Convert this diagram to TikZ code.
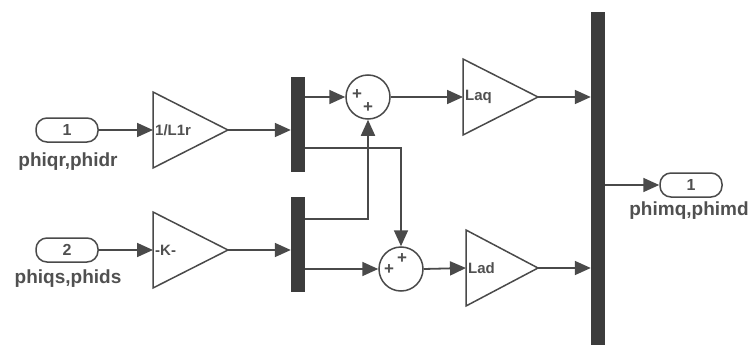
\documentclass[tikz,border=0pt]{standalone}
\usepackage{fontspec}
\setmainfont{Liberation Sans}
\usetikzlibrary{arrows.meta}
\definecolor{ink}{HTML}{4A4A4A}
\definecolor{barcol}{HTML}{3C3C3C}
\definecolor{txt}{HTML}{505050}
\begin{document}
\begin{tikzpicture}[x=1pt,y=-1pt,
  wire/.style={draw=ink, line width=1.8pt},
  sig/.style={wire, -{Triangle[length=16pt,width=14pt]}},
  port/.style={draw=ink, line width=1.5pt, rounded corners=11pt, minimum width=62pt,
    minimum height=24pt, inner sep=0pt, text=txt, font=\bfseries\fontsize{16}{16}\selectfont},
  bus/.style={fill=barcol, draw=none, minimum width=14pt, inner sep=0pt},
  sumblk/.style={circle, draw=ink, line width=1.5pt, minimum size=44pt, inner sep=0pt},
  gainshape/.style={draw=ink, line width=1.5pt, line join=miter},
  gainlbl/.style={anchor=west, inner sep=1pt, text=txt, font=\bfseries\fontsize{15}{15}\selectfont},
  tag/.style={text=txt, inner sep=0pt, font=\bfseries\fontsize{19}{19}\selectfont},
  sign/.style={text=txt, inner sep=0pt, font=\bfseries\fontsize{17}{17}\selectfont}]
\useasboundingbox (0,0) rectangle (756,348);

% input ports and their signal names
\node[port] (in1) at (67,130) {1};
\node[tag] (in1t) at (68,162) {phiqr,phidr};
\node[port] (in2) at (67,250) {2};
\node[tag] (in2t) at (68,279) {phiqs,phids};

% gain blocks
\draw[gainshape] (153,92) -- (228,130) -- (153,168) -- cycle;
\coordinate (g1in) at (153,130); \coordinate (g1out) at (228,130);
\node[gainlbl] (g1t) at (154,130) {1/L1r};

\draw[gainshape] (153,212) -- (228,250) -- (153,288) -- cycle;
\coordinate (g2in) at (153,250); \coordinate (g2out) at (228,250);
\node[gainlbl] (g2t) at (154,250) {-K-};

\draw[gainshape] (463,59) -- (538,97) -- (463,135) -- cycle;
\coordinate (g3in) at (463,97); \coordinate (g3out) at (538,97);
\node[gainlbl] (g3t) at (464,97) {Laq};

\draw[gainshape] (466,230) -- (538,268) -- (466,306) -- cycle;
\coordinate (g4in) at (466,268); \coordinate (g4out) at (538,268);
\node[gainlbl] (g4t) at (467,268) {Lad};

% mux / demux bars
\node[bus, minimum height=95pt] (mux1) at (298,124.5) {};
\node[bus, minimum height=95pt] (mux2) at (298,244.5) {};
\node[bus, minimum height=333pt] (mux3) at (598,178.5) {};

% sum blocks
\node[sumblk] (s1) at (368,97) {};
\node[sign] at (357,95) {+};
\node[sign] at (368,108) {+};
\node[sumblk] (s2) at (401,269) {};
\node[sign] at (389,270) {+};
\node[sign] at (402,259) {+};

% output port
\node[port] (out1) at (691,185) {1};
\node[tag] (out1t) at (689,211) {phimq,phimd};

% branch points on the bars
\coordinate (m1a) at (305,97);
\coordinate (m1b) at (305,148);
\coordinate (m2a) at (305,219);
\coordinate (m2b) at (305,269);

% signal lines
\draw[sig] (in1.east) -- (g1in);
\draw[sig] (in2.east) -- (g2in);
\draw[sig] (g1out) -- (mux1.west |- g1out);
\draw[sig] (g2out) -- (mux2.west |- g2out);
\draw[sig] (m1a) -- (s1.west);
\draw[sig] (m1b) -| (s2.north);
\draw[sig] (m2a) -| (s1.south);
\draw[sig] (m2b) -- (s2.west);
\draw[sig] (s1.east) -- (g3in);
\draw[sig] (s2.east) -- (g4in);
\draw[sig] (g3out) -- (mux3.west |- g3out);
\draw[sig] (g4out) -- (mux3.west |- g4out);
\draw[sig] (mux3.east |- out1.west) -- (out1.west);
\end{tikzpicture}
\end{document}
